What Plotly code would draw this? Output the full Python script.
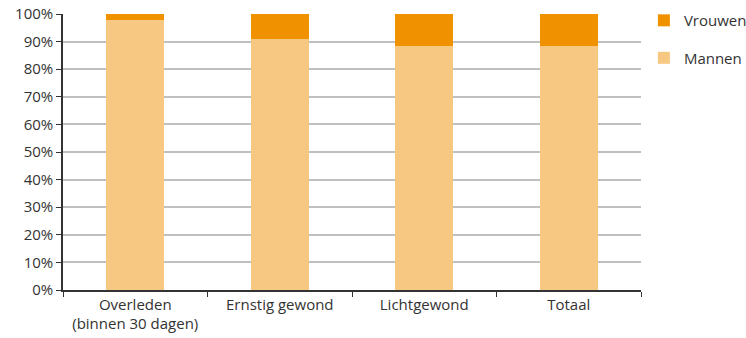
import plotly.graph_objects as go

categories = ["Overleden<br>(binnen 30 dagen)", "Ernstig gewond", "Lichtgewond", "Totaal"]
mannen = [97.8, 91.0, 88.4, 88.5]
vrouwen = [2.2, 9.0, 11.6, 11.5]
y_ticks = [0, 10, 20, 30, 40, 50, 60, 70, 80, 90, 100]
y_tick_labels = [f"{v}%" for v in y_ticks]

fig = go.Figure()
fig.add_trace(go.Bar(x=categories, y=mannen, name="Mannen", marker_color="#F7C882",
                     marker_line_width=0, legendgroup="m", legendrank=2))
fig.add_trace(go.Bar(x=categories, y=vrouwen, name="Vrouwen", marker_color="#F09200",
                     marker_line_width=0, legendgroup="v", legendrank=1))

fig.update_layout(
    barmode="stack",
    bargap=0.6,
    width=746, height=338,
    margin=dict(l=63, r=105, t=14, b=48, autoexpand=False),
    plot_bgcolor="white", paper_bgcolor="white",
    font=dict(family="Open Sans, DejaVu Sans", size=15, color="#333333"),
    legend=dict(x=1.005, y=1.036, xanchor="left", yanchor="top",
                traceorder="grouped", tracegroupgap=15,
                font=dict(size=15), itemwidth=30),
    showlegend=True,
)
fig.update_xaxes(
    showline=True, linecolor="#333333", linewidth=1.5,
    ticks="outside", tickson="boundaries", ticklen=5, tickcolor="#333333",
    showgrid=False, automargin=False,
)
fig.update_yaxes(
    range=[0, 100], tickvals=y_ticks, ticktext=y_tick_labels,
    showline=True, linecolor="#333333", linewidth=1.5,
    ticks="outside", ticklen=5, tickcolor="#333333",
    showgrid=True, gridcolor="#C0C0C0", gridwidth=1.5, zeroline=False,
    automargin=False,
)

fig.write_html("out.html", config={"displayModeBar": False},
               post_script="document.body.style.margin='0';")
